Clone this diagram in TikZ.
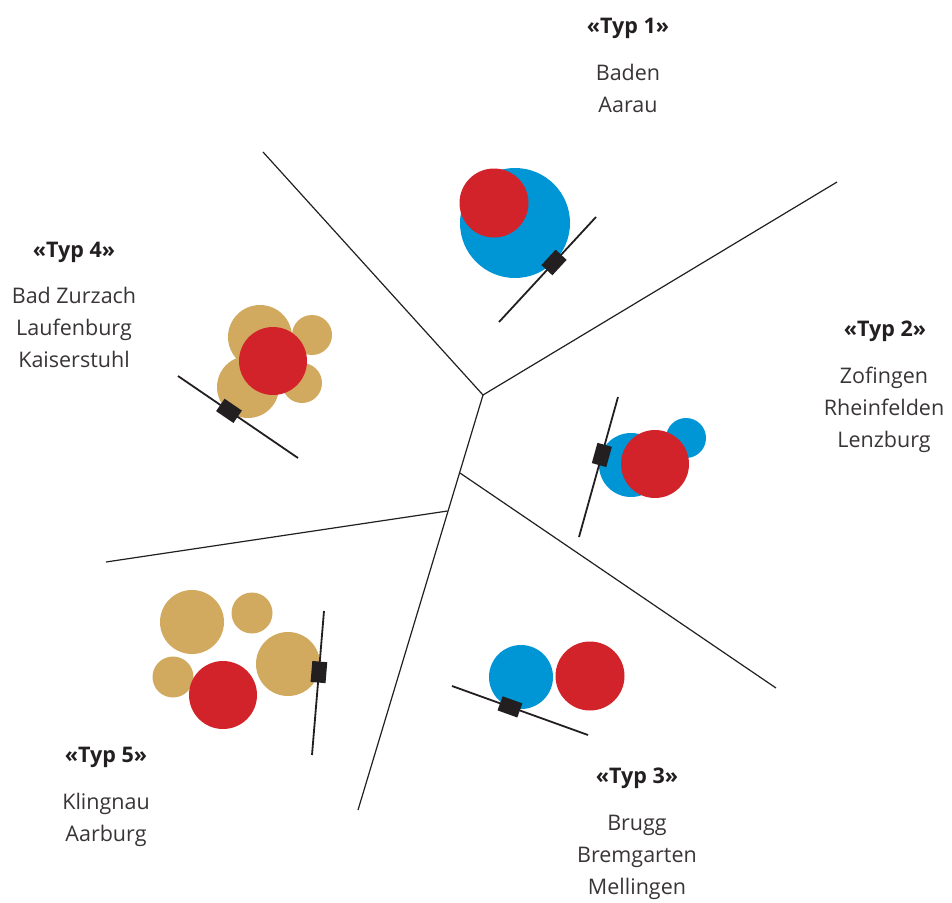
\documentclass[tikz,border=0pt]{standalone}
\usepackage{fontspec}
\setmainfont{Open Sans}
\begin{document}
\definecolor{cblue}{HTML}{0096D6}
\definecolor{cred}{HTML}{D2232A}
\definecolor{ctan}{HTML}{D2AA5F}
\definecolor{cink}{HTML}{231F20}
\begin{tikzpicture}[x=1pt,y=-1pt,
  blob/.style={circle,inner sep=0pt,minimum size=#1,draw=none},
  bblob/.style={blob=#1,fill=cblue},
  rblob/.style={blob=#1,fill=cred},
  tblob/.style={blob=#1,fill=ctan},
  border/.style={cink,line width=1.2pt},
  axis/.style={cink,line width=1.8pt},
  marker/.style={rectangle,fill=cink,inner sep=0pt,minimum width=21pt,minimum height=15pt,sloped},
  title/.style={font=\fontsize{21.5}{32}\selectfont\bfseries,text=cink,anchor=base},
  % anchor=base of a multi-line node sits on its last line
  towns/.style={font=\fontsize{21.5}{32}\selectfont,text=cink!90,align=center,anchor=base}]
\useasboundingbox (0,0) rectangle (952,902);

% boundaries between the five types
\coordinate (ja) at (483,395);
\coordinate (jb) at (460,473);
\coordinate (jc) at (447.5,511);
\coordinate (e1) at (263,152);
\coordinate (e2) at (837,182);
\coordinate (e3) at (358,810);
\coordinate (e4) at (776,688);
\coordinate (e5) at (106,562);
\draw[border] (e1) -- (ja) -- (e2);
\draw[border] (ja) -- (e3);
\draw[border] (jb) -- (e4);
\draw[border] (jc) -- (e5);

% Typ 1
\node[bblob=110pt] (t1b) at (515,223) {};
\node[rblob=69pt] (t1r) at (494,203) {};
\coordinate (a1s) at (499,322);
\coordinate (a1e) at (596,217);
\draw[axis] (a1s) -- node[marker,pos=0.567] (m1) {} (a1e);

% Typ 2
\node[bblob=64pt] (t2b) at (631,465) {};
\node[bblob=40pt] (t2s) at (686,438) {};
\node[rblob=68pt] (t2r) at (655,464) {};
\coordinate (a2s) at (618,397);
\coordinate (a2e) at (579,537);
\draw[axis] (a2s) -- node[marker,pos=0.414] (m2) {} (a2e);

% Typ 3
\node[bblob=64pt] (t3b) at (521,677) {};
\node[rblob=69pt] (t3r) at (590,676) {};
\coordinate (a3s) at (452,686);
\coordinate (a3e) at (588,735);
\draw[axis] (a3s) -- node[marker,pos=0.426] (m3) {} (a3e);

% Typ 4
\node[tblob=64pt] (t4a) at (260,337) {};
\node[tblob=40pt] (t4b) at (312,335) {};
\node[tblob=62pt] (t4c) at (248,387) {};
\node[tblob=40pt] (t4d) at (302,383) {};
\node[rblob=68pt] (t4r) at (273,361) {};
\coordinate (a4s) at (178,376);
\coordinate (a4e) at (298,458);
\draw[axis] (a4s) -- node[marker,pos=0.425] (m4) {} (a4e);

% Typ 5
\node[tblob=64pt] (t5a) at (192,622) {};
\node[tblob=41pt] (t5b) at (252,613) {};
\node[tblob=64pt] (t5c) at (288,664) {};
\node[tblob=41pt] (t5d) at (173,677) {};
\node[rblob=68pt] (t5r) at (223,695) {};
\coordinate (a5s) at (324,611);
\coordinate (a5e) at (312,755);
\draw[axis] (a5s) -- node[marker,pos=0.424] (m5) {} (a5e);

% labels
\node[title] (l1) at (628,33) {«Typ 1»};
\node[towns] (c1) at (628,112) {Baden\\Aarau};
\node[title] (l2) at (885,336) {«Typ 2»};
\node[towns] (c2) at (884,447) {Zofingen\\Rheinfelden\\Lenzburg};
\node[title] (l3) at (637,783) {«Typ 3»};
\node[towns] (c3) at (637,894) {Brugg\\Bremgarten\\Mellingen};
\node[title] (l4) at (74,257) {«Typ 4»};
\node[towns] (c4) at (74,367) {Bad Zurzach\\Laufenburg\\Kaiserstuhl};
\node[title] (l5) at (106,762) {«Typ 5»};
\node[towns] (c5) at (106,841) {Klingnau\\Aarburg};
\end{tikzpicture}
\end{document}
